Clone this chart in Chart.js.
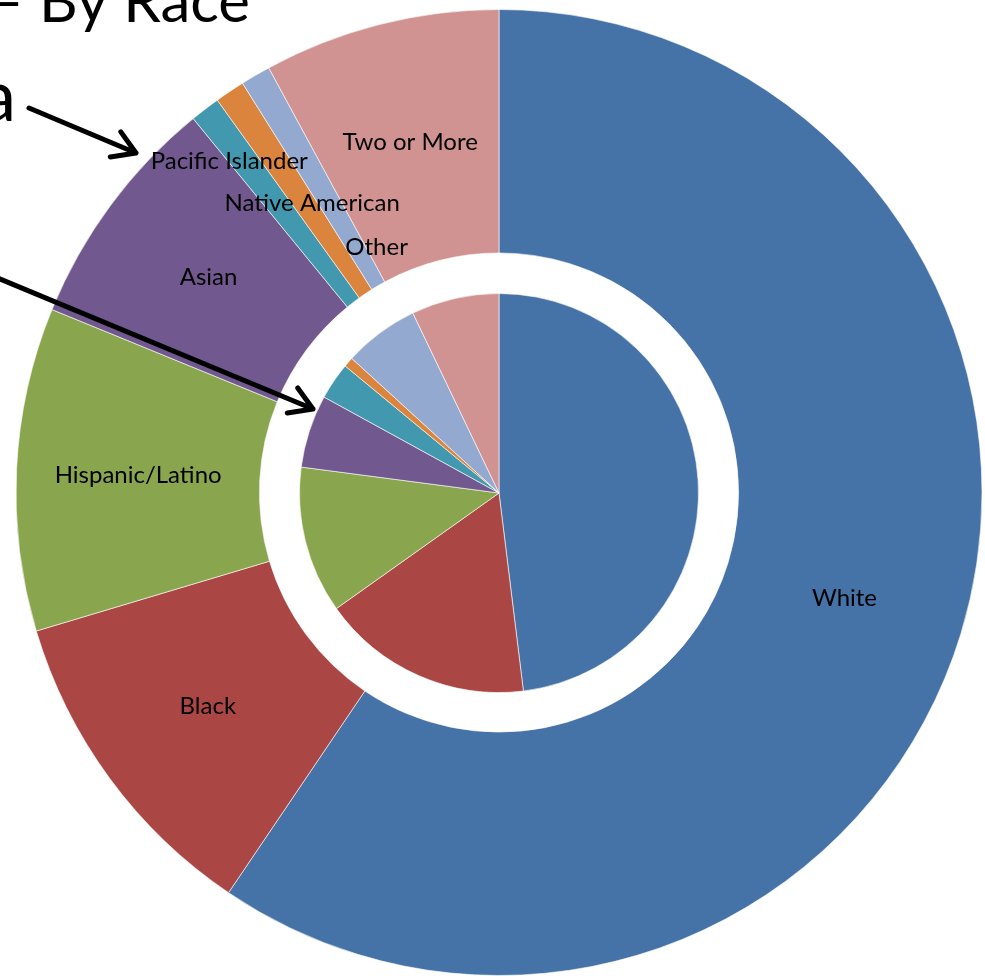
<!DOCTYPE html>
<html>
<head>
<meta charset="utf-8">
<script src="https://cdn.jsdelivr.net/npm/chart.js@4/dist/chart.umd.min.js"></script>
<style>
html, body { margin: 0; padding: 0; background: #fff; overflow: hidden; }
#wrap { position: relative; width: 985px; height: 976px; }
#outerBox { position: absolute; left: 0; top: 0; width: 985px; height: 976px; }
#innerBox { position: absolute; left: 299px; top: 293px; width: 400px; height: 400px; }
</style>
</head>
<body>
<div id="wrap">
    <div id="outerBox"><canvas id="outerChart"></canvas></div>
    <div id="innerBox"><canvas id="innerChart"></canvas></div>
</div>
<script>
var categories = ["White", "Black", "Hispanic/Latino", "Asian",
                  "Pacific Islander", "Native American", "Other", "Two or More"];
// outer ring and inner pie, percent
var outerValues = [59.4, 10.9, 10.8, 7.9, 1.0, 1.0, 1.0, 7.9];
var innerValues = [48.0, 17.1, 11.9, 5.9, 3.0, 0.8, 6.1, 7.1];
var sliceColors = ["#4572A7", "#AA4643", "#89A54E", "#71588F",
                   "#4198AF", "#DB843D", "#93A9CF", "#D19392"];

// small slices: labels pushed along the ring so they don't collide
var labelNudge = {
    "Pacific Islander": { ring: 0.77, turn: -1.7 },
    "Native American": { ring: 0.43, turn: 1.0 },
    "Other": { ring: 0.14, turn: 3.7 }
};

var labelFont = "24px Lato";

var sliceLabels = {
    id: "sliceLabels",
    afterDatasetsDraw: function(chart) {
        var ctx = chart.ctx;
        var meta = chart.getDatasetMeta(0);
        ctx.save();
        ctx.font = labelFont;
        ctx.fillStyle = "#000";
        ctx.textAlign = "center";
        ctx.textBaseline = "middle";
        meta.data.forEach(function(arc, i) {
            var p = arc.getProps(["x", "y", "startAngle", "endAngle", "innerRadius", "outerRadius"], true);
            var nudge = labelNudge[categories[i]] || { ring: 0.5, turn: 0 };
            var angle = (p.startAngle + p.endAngle) / 2 + nudge.turn * Math.PI / 180;
            var r = p.innerRadius + nudge.ring * (p.outerRadius - p.innerRadius);
            ctx.fillText(categories[i], p.x + r * Math.cos(angle), p.y + r * Math.sin(angle));
        });
        ctx.restore();
    }
};

function drawArrow(ctx, x1, y1, x2, y2) {
    var a = Math.atan2(y2 - y1, x2 - x1);
    var head = 26;
    ctx.beginPath();
    ctx.moveTo(x1, y1);
    ctx.lineTo(x2, y2);
    ctx.moveTo(x2 - head * Math.cos(a - 0.55), y2 - head * Math.sin(a - 0.55));
    ctx.lineTo(x2, y2);
    ctx.lineTo(x2 - head * Math.cos(a + 0.55), y2 - head * Math.sin(a + 0.55));
    ctx.stroke();
}

// slide text and callout arrows around the chart
var slideBits = {
    id: "slideBits",
    afterDraw: function(chart) {
        var ctx = chart.ctx;
        ctx.save();
        ctx.fillStyle = "#000";
        ctx.textAlign = "right";
        ctx.textBaseline = "alphabetic";
        ctx.font = "60px Lato";
        ctx.fillText("\u2013 By Race", 250, 22);
        ctx.font = "72px Lato";
        ctx.fillText("a", 16, 121);

        ctx.strokeStyle = "#000";
        ctx.lineWidth = 5;
        ctx.lineCap = "round";
        ctx.lineJoin = "round";
        drawArrow(ctx, 29, 108, 136, 153);
        drawArrow(ctx, -5, 277, 313, 409);
        ctx.restore();
    }
};

function makeOuterChart() {
    new Chart(document.getElementById("outerChart"), {
        type: "doughnut",
        data: {
            labels: categories,
            datasets: [{
                data: outerValues,
                backgroundColor: sliceColors,
                borderColor: "rgba(255,255,255,0.6)",
                borderWidth: 1
            }]
        },
        options: {
            responsive: true,
            maintainAspectRatio: false,
            animation: false,
            cutout: "49.6%",
            layout: { padding: { left: 15, top: 9, right: 2, bottom: 0 } },
            plugins: {
                legend: { display: false },
                tooltip: { enabled: false }
            }
        },
        plugins: [sliceLabels, slideBits]
    });
}

function makeInnerChart() {
    new Chart(document.getElementById("innerChart"), {
        type: "pie",
        data: {
            labels: categories,
            datasets: [{
                data: innerValues,
                backgroundColor: sliceColors,
                borderColor: "rgba(255,255,255,0.6)",
                borderWidth: 1
            }]
        },
        options: {
            responsive: true,
            maintainAspectRatio: false,
            animation: false,
            plugins: {
                legend: { display: false },
                tooltip: { enabled: false }
            }
        }
    });
}

makeOuterChart();
makeInnerChart();
</script>
</body>
</html>
